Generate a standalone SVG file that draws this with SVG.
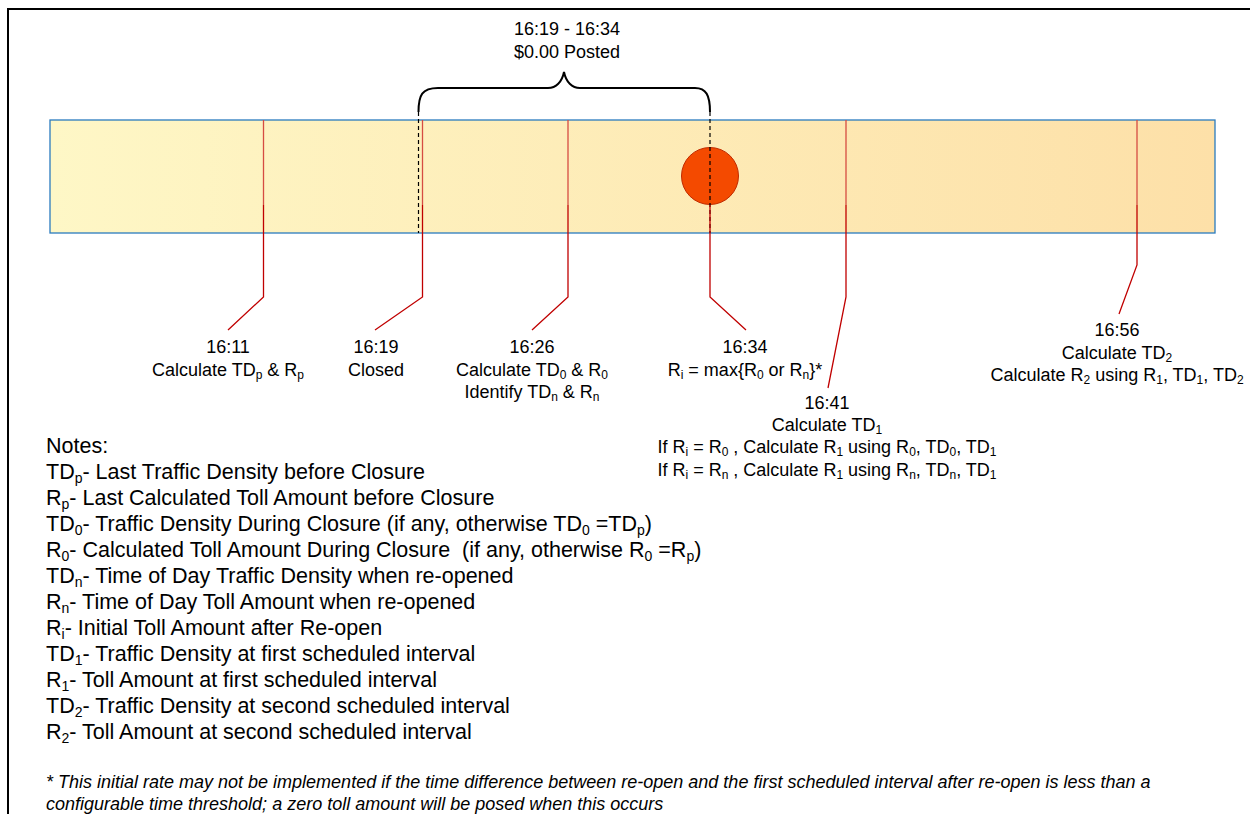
<svg xmlns="http://www.w3.org/2000/svg" width="1250" height="814" viewBox="0 0 1250 814">
<defs>
<linearGradient id="barGrad" x1="0" y1="0" x2="1" y2="0">
<stop offset="0" stop-color="#FEF7C6"/>
<stop offset="1" stop-color="#FDE0A8"/>
</linearGradient>
<style>
text{font-family:"Liberation Sans",Arial,sans-serif;fill:#000}
.lbl{font-size:18px;text-anchor:middle}
.note{font-size:21.5px}
.foot{font-size:18px;font-style:italic}
.sub{font-size:12px;baseline-shift:-3px}
.nsub{font-size:14px;baseline-shift:-4px}
.red{stroke:#C00000;stroke-width:1.3;fill:none}
.redlt{stroke:#D64C42;stroke-width:1.3;fill:none}
.dash{stroke:#000;stroke-width:1.2;stroke-dasharray:4 3;fill:none}
</style>
</defs>
<rect x="8" y="9" width="1262" height="830" fill="none" stroke="#000" stroke-width="2"/>
<g id="timeline">
<rect x="50" y="120" width="1165" height="113" fill="url(#barGrad)" stroke="#2A7BBF" stroke-width="1.3"/>
</g>
<g id="closure">
<path d="M418.5,112 C418.5,95 422,88 438,88 L548,88 C556,88 562,82 564,72 C566,82 572,88 580,88 L695,88 C706,88 710,95 710,112" fill="none" stroke="#000" stroke-width="2"/>
<text class="lbl" x="567" y="35">16:19 - 16:34</text>
<text class="lbl" x="567" y="58">$0.00 Posted</text>
</g>
<g id="connectors">
<line class="dash" x1="418.5" y1="112" x2="418.5" y2="233"/>
<line class="dash" x1="710" y1="112" x2="710" y2="233"/>
<line class="redlt" x1="263.5" y1="120" x2="263.5" y2="205"/>
<polyline class="red" points="263.5,205 263.5,297 228,330"/>
<line class="redlt" x1="422.5" y1="120" x2="422.5" y2="205"/>
<polyline class="red" points="422.5,205 422.5,297 375,330"/>
<line class="redlt" x1="568" y1="120" x2="568" y2="205"/>
<polyline class="red" points="568,205 568,297 532,330"/>
<polyline class="red" points="710,205 710,297 746,330"/>
<line class="redlt" x1="846" y1="120" x2="846" y2="205"/>
<polyline class="red" points="846,205 846,297 828,388"/>
<line class="redlt" x1="1137" y1="120" x2="1137" y2="205"/>
<polyline class="red" points="1137,205 1137,265 1119,314"/>
</g>
<g id="reopen">
<circle cx="710" cy="176" r="28.5" fill="#F44A00" stroke="#C02A00" stroke-width="1"/>
<line x1="710" y1="147" x2="710" y2="205" class="dash"/>
</g>
<g id="n1611">
<text class="lbl" x="228" y="353">16:11</text>
<text class="lbl" x="228" y="376">Calculate TD<tspan class="sub">p</tspan> &amp; R<tspan class="sub">p</tspan></text>
</g>
<g id="n1619">
<text class="lbl" x="376" y="353">16:19</text>
<text class="lbl" x="376" y="376">Closed</text>
</g>
<g id="n1626">
<text class="lbl" x="532" y="353">16:26</text>
<text class="lbl" x="532" y="376">Calculate TD<tspan class="sub">0</tspan> &amp; R<tspan class="sub">0</tspan></text>
<text class="lbl" x="532" y="398">Identify TD<tspan class="sub">n</tspan> &amp; R<tspan class="sub">n</tspan></text>
</g>
<g id="n1634">
<text class="lbl" x="745" y="353">16:34</text>
<text class="lbl" x="745" y="376">R<tspan class="sub">i</tspan> = max{R<tspan class="sub">0</tspan> or R<tspan class="sub">n</tspan>}*</text>
</g>
<g id="n1641">
<text class="lbl" x="827" y="409">16:41</text>
<text class="lbl" x="827" y="431">Calculate TD<tspan class="sub">1</tspan></text>
<text class="lbl" x="827" y="453">If R<tspan class="sub">i</tspan> = R<tspan class="sub">0</tspan> , Calculate R<tspan class="sub">1</tspan> using R<tspan class="sub">0</tspan>, TD<tspan class="sub">0</tspan>, TD<tspan class="sub">1</tspan></text>
<text class="lbl" x="827" y="476">If R<tspan class="sub">i</tspan> = R<tspan class="sub">n</tspan> , Calculate R<tspan class="sub">1</tspan> using R<tspan class="sub">n</tspan>, TD<tspan class="sub">n</tspan>, TD<tspan class="sub">1</tspan></text>
</g>
<g id="n1656">
<text class="lbl" x="1117" y="336">16:56</text>
<text class="lbl" x="1117" y="359">Calculate TD<tspan class="sub">2</tspan></text>
<text class="lbl" x="1117" y="381">Calculate R<tspan class="sub">2</tspan> using R<tspan class="sub">1</tspan>, TD<tspan class="sub">1</tspan>, TD<tspan class="sub">2</tspan></text>
</g>
<g id="notes">
<text class="note" x="46" y="453">Notes:</text>
<text class="note" x="46" y="479">TD<tspan class="nsub">p</tspan>- Last Traffic Density before Closure</text>
<text class="note" x="46" y="505">R<tspan class="nsub">p</tspan>- Last Calculated Toll Amount before Closure</text>
<text class="note" x="46" y="531">TD<tspan class="nsub">0</tspan>- Traffic Density During Closure (if any, otherwise TD<tspan class="nsub">0</tspan> =TD<tspan class="nsub">p</tspan>)</text>
<text class="note" x="46" y="557">R<tspan class="nsub">0</tspan>- Calculated Toll Amount During Closure &#160;(if any, otherwise R<tspan class="nsub">0</tspan> =R<tspan class="nsub">p</tspan>)</text>
<text class="note" x="46" y="583">TD<tspan class="nsub">n</tspan>- Time of Day Traffic Density when re-opened</text>
<text class="note" x="46" y="609">R<tspan class="nsub">n</tspan>- Time of Day Toll Amount when re-opened</text>
<text class="note" x="46" y="635">R<tspan class="nsub">i</tspan>- Initial Toll Amount after Re-open</text>
<text class="note" x="46" y="661">TD<tspan class="nsub">1</tspan>- Traffic Density at first scheduled interval</text>
<text class="note" x="46" y="687">R<tspan class="nsub">1</tspan>- Toll Amount at first scheduled interval</text>
<text class="note" x="46" y="713">TD<tspan class="nsub">2</tspan>- Traffic Density at second scheduled interval</text>
<text class="note" x="46" y="739">R<tspan class="nsub">2</tspan>- Toll Amount at second scheduled interval</text>
</g>
<g id="footnote">
<text class="foot" x="46" y="788">* This initial rate may not be implemented if the time difference between re-open and the first scheduled interval after re-open is less than a</text>
<text class="foot" x="46" y="810">configurable time threshold; a zero toll amount will be posed when this occurs</text>
</g>
</svg>
